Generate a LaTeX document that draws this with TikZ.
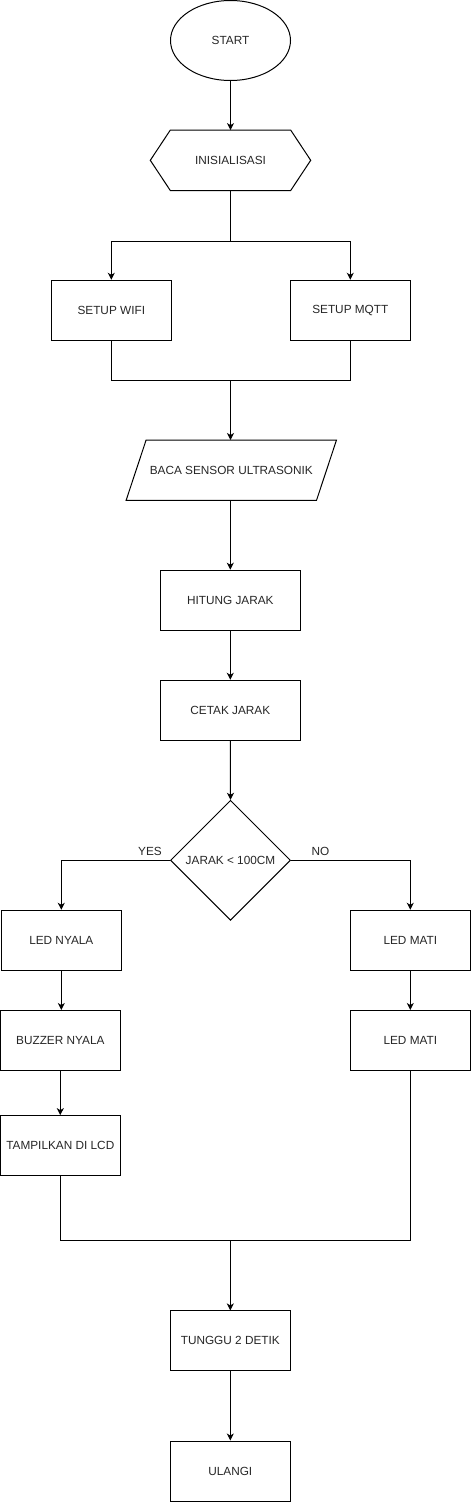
\documentclass[tikz,border=0pt]{standalone}
\usepackage{fontspec}
\setmainfont{Liberation Sans}
\usetikzlibrary{shapes.geometric,arrows.meta,calc}
\definecolor{txt}{rgb}{0.15,0.15,0.15}
\begin{document}
\begin{tikzpicture}[x=1pt,y=-1pt,
  every node/.style={font=\fontsize{11.8}{14}\selectfont, text=txt},
  box/.style={draw, line width=1pt, minimum width=120pt, minimum height=60pt, inner sep=0pt},
  ghost/.style={inner sep=0pt},
  lnk/.style={line width=1pt},
  arr/.style={line width=1pt, -{Stealth[length=7pt,width=7pt,inset=2pt]}}]
\useasboundingbox (0,0) rectangle (471,1502);

% nodes
\node[draw, line width=1pt, ellipse, minimum width=120pt, minimum height=80pt, inner sep=0pt] (start) at (230.5,40.5) {START};
\node[ghost, minimum width=160pt, minimum height=60pt] (init) at (230.5,160.3) {INISIALISASI};
\draw[line width=1pt] ([xshift=20pt]init.north west) -- ([xshift=-20pt]init.north east) -- (init.east)
  -- ([xshift=-20pt]init.south east) -- ([xshift=20pt]init.south west) -- (init.west) -- cycle;
\node[box] (wifi) at (111.3,310.3) {SETUP WIFI};
\node[box] (mqtt) at (350.3,310.3) {SETUP MQTT};
\node[ghost, minimum width=210pt, minimum height=60pt] (baca) at (231.3,470.2) {BACA SENSOR ULTRASONIK};
\draw[line width=1pt] ([xshift=20pt]baca.north west) -- (baca.north east) -- ([xshift=-20pt]baca.south east)
  -- (baca.south west) -- cycle;
\node[box, minimum width=140pt] (hitung) at (230.3,600.2) {HITUNG JARAK};
\node[box, minimum width=140pt] (cetak) at (230.3,710.3) {CETAK JARAK};
\node[draw, line width=1pt, diamond, minimum width=120pt, minimum height=120pt, inner sep=0pt] (dec) at (230.5,860.3) {JARAK < 100CM};
\node[box] (lny) at (61.3,940.3) {LED NYALA};
\node[box] (buz) at (60.3,1040.5) {BUZZER NYALA};
\node[box] (tam) at (60.3,1145.6) {TAMPILKAN DI LCD};
\node[box] (lm1) at (410.3,940.3) {LED MATI};
\node[box] (lm2) at (410.3,1040.5) {LED MATI};
\node[box] (tunggu) at (230.3,1340.9) {TUNGGU 2 DETIK};
\node[box] (ulangi) at (230.3,1471) {ULANGI};

\node[ghost] (yes) at (150,851.7) {YES};
\node[ghost] (no) at (320.5,851.7) {NO};

\coordinate (split) at (230.5,241);
\coordinate (merge1) at (230.5,380);
\coordinate (merge2) at (230.3,1240.6);

% connectors
\draw[arr] (start.south) -- (init.south |- init.north);
\draw[lnk] (init.south) -- (split);
\draw[arr] (split) -| (wifi.north);
\draw[arr] (split) -| (mqtt.north);
\draw[lnk] (wifi.south) |- (merge1);
\draw[lnk] (mqtt.south) |- (merge1);
\draw[arr] (merge1) -- (merge1 |- baca.north);
\draw[arr] (baca.south -| hitung.north) -- (hitung.north);
\draw[arr] (hitung.south) -- (cetak.north);
\draw[arr] (cetak.south) -- (dec.north);
\draw[arr] (dec.west) -| (lny.north);
\draw[arr] (dec.east) -| (lm1.north);
\draw[arr] (lny.south) -- (lny.south |- buz.north);
\draw[arr] (buz.south) -- (tam.north);
\draw[arr] (lm1.south) -- (lm2.north);
\draw[lnk] (tam.south) |- (merge2);
\draw[lnk] (lm2.south) |- (merge2);
\draw[arr] (merge2) -- (tunggu.north);
\draw[arr] (tunggu.south) -- (ulangi.north);
\end{tikzpicture}
\end{document}
